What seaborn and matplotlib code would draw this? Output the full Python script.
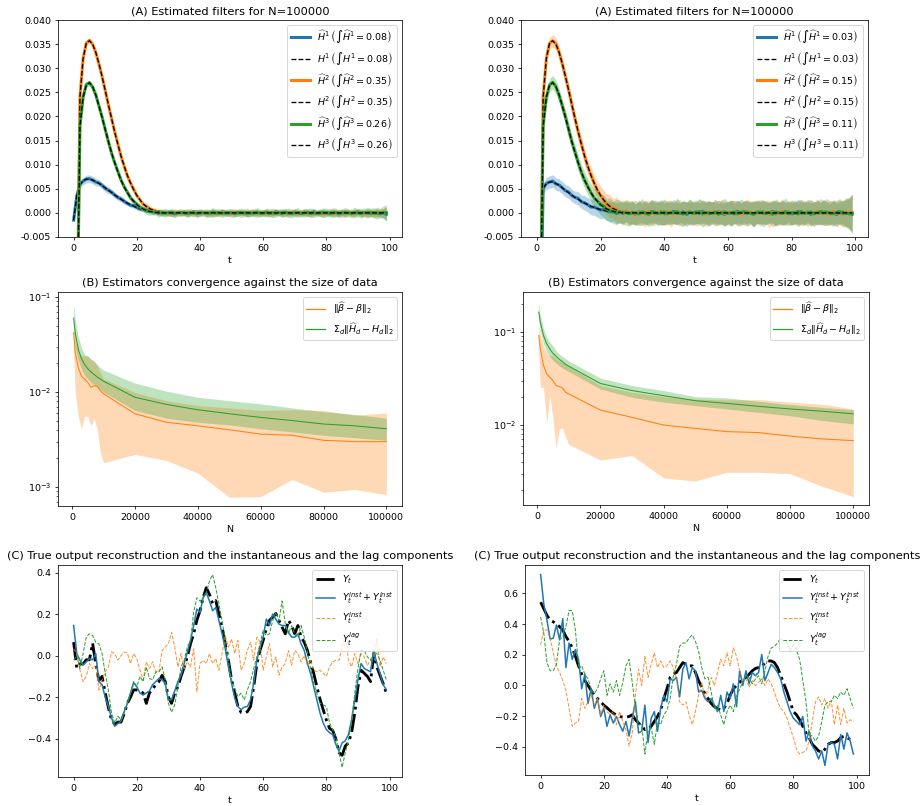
import numpy as np
import pandas as pd
import matplotlib
matplotlib.use("Agg")
import matplotlib.pyplot as plt
from matplotlib.lines import Line2D
import seaborn as sns

# ---------------- Panel A data (filters) ----------------
t = list(range(100))

H1_true_L = [-0.0015, 0.0035, 0.0058, 0.0067, 0.0070, 0.0070, 0.0068, 0.0065, 0.0061, 0.0057,
             0.0052, 0.0047, 0.0042, 0.0037, 0.0033, 0.0028, 0.0024, 0.0020, 0.0017, 0.0014,
             0.0011, 0.0009, 0.0007, 0.0005, 0.0004, 0.0003, 0.0002, 0.0001, 0.0001, 0.0] + [0.0] * 70
H1_true_R = [-0.050, -0.030, 0.0052, 0.0060, 0.0064, 0.0064, 0.0061, 0.0057, 0.0052, 0.0047,
             0.0042, 0.0037, 0.0032, 0.0028, 0.0024, 0.0020, 0.0017, 0.0014, 0.0011, 0.0009,
             0.0007, 0.0005, 0.0004, 0.0003, 0.0002, 0.0001, 0.0001, 0.0, 0.0, 0.0] + [0.0] * 70
H2_true = [-0.050, -0.030, 0.0240, 0.0320, 0.0352, 0.0357, 0.0350, 0.0333, 0.0310, 0.0283,
           0.0254, 0.0225, 0.0196, 0.0168, 0.0142, 0.0118, 0.0097, 0.0078, 0.0062, 0.0048,
           0.0036, 0.0027, 0.0019, 0.0013, 0.0009, 0.0006, 0.0003, 0.0002, 0.0001, 0.0] + [0.0] * 70
H3_true = [-0.050, -0.030, 0.0180, 0.0240, 0.0265, 0.0270, 0.0262, 0.0245, 0.0222, 0.0198,
           0.0173, 0.0148, 0.0125, 0.0104, 0.0085, 0.0068, 0.0054, 0.0042, 0.0032, 0.0024,
           0.0017, 0.0012, 0.0008, 0.0005, 0.0003, 0.0002, 0.0001, 0.0, 0.0, 0.0] + [0.0] * 70

# deviations of the estimates and band half-widths, in units of 1e-4
H1_dev_L = [0, 1, 1, -1, 0, 1, 0, -1, 1, 0, -1, 0, 1, 0, -1, 1, 0, 0, -1, 1,
            0, -1, 1, 1, 0, -1, 0, 1, -1, 0, 1, 0, -2, 1, 0, 1, -1, 0, 2, -1,
            0, 1, -1, 0, 1, 0, -1, 2, 0, -1, 1, -1, 0, 1, 0, -2, 1, 0, 1, -1,
            0, 1, -1, 0, 2, 0, -1, 1, -1, 0, 1, 0, -1, 1, 0, -1, 2, 0, -1, 1,
            0, -1, 1, 0, -2, 1, 0, 1, -1, 0, 2, -1, 0, 1, -1, 0, 1, -2, 0, -3]
H1_band_L = [6, 7, 7, 8, 8, 8, 8, 8, 7, 7, 7, 7, 6, 6, 6, 6, 6, 5, 5, 5,
             5, 5, 5, 6, 5, 6, 5, 6, 7, 6, 6, 7, 6, 5, 6, 7, 6, 5, 6, 7,
             6, 5, 7, 6, 8, 6, 5, 6, 7, 6, 5, 6, 7, 6, 5, 7, 6, 6, 7, 5,
             6, 7, 5, 6, 7, 6, 8, 6, 5, 6, 7, 6, 5, 7, 6, 6, 7, 5, 6, 7,
             6, 5, 7, 6, 8, 6, 7, 5, 6, 7, 6, 7, 6, 8, 7, 6, 8, 7, 9, 14]
H2_dev_L = [0, 0, 1, 0, 0, 1, 0, 0, -1, 0, 0, -1, 0, 0, 1, 0, 0, -1, 0, 1,
            0, 0, -1, 1, 0, 0, 1, -1, 0, 1, -1, 0, 1, 0, -1, 1, 0, 0, -1, 1,
            0, 1, -1, 0, 0, 1, -1, 1, 0, 0, -1, 1, 0, 0, 1, -1, 0, 1, 0, -1,
            1, 0, 0, -1, 1, 0, 1, -1, 0, 0, 1, -1, 0, 1, 0, 0, -1, 1, 0, -1,
            0, 1, 0, -1, 1, 0, 0, 1, -1, 0, 1, 0, -1, 0, 1, -1, 0, 1, 0, 1]
H2_band_L = [5, 6, 5, 5, 5, 5, 5, 5, 5, 5, 5, 5, 5, 5, 5, 5, 5, 5, 5, 5,
             5, 5, 5, 6, 6, 5, 6, 7, 6, 5, 6, 7, 6, 7, 5, 6, 8, 6, 7, 6,
             7, 6, 5, 7, 6, 8, 6, 7, 5, 6, 7, 8, 6, 5, 7, 6, 8, 7, 6, 7,
             6, 7, 8, 6, 7, 5, 6, 8, 7, 6, 8, 6, 7, 6, 8, 7, 6, 5, 7, 8,
             6, 7, 8, 6, 7, 6, 8, 7, 6, 7, 8, 7, 6, 8, 7, 9, 8, 7, 9, 12]
H3_dev_L = [0, 1, 0, 0, 1, 0, -1, 0, 0, 1, 0, 0, -1, 0, 1, 0, 0, 1, -1, 0,
            1, 0, 0, -1, 0, 1, 0, -1, 1, 0, 0, 1, -1, 0, 1, 0, -1, 1, 0, -1,
            1, 0, 0, -1, 1, 0, 1, -1, 0, 1, 0, -1, 1, 0, 0, 1, -1, 0, 1, 0,
            -1, 1, 0, 0, -1, 1, 0, 1, 0, -1, 0, 1, -1, 0, 1, 0, 0, -1, 1, 0,
            1, 0, 0, 1, -1, 0, 1, 0, -1, 1, 0, -1, 1, 0, 1, 0, -1, 0, 1, 0]
H3_band_L = [6, 7, 6, 6, 6, 6, 6, 6, 6, 6, 6, 6, 6, 6, 6, 6, 6, 6, 6, 6,
             6, 7, 6, 7, 8, 7, 6, 8, 7, 9, 7, 8, 9, 7, 8, 6, 9, 8, 7, 9,
             8, 7, 9, 8, 10, 7, 8, 9, 7, 8, 9, 8, 7, 10, 8, 9, 7, 8, 10, 8,
             7, 9, 8, 10, 8, 7, 9, 8, 10, 9, 8, 10, 7, 9, 8, 10, 9, 7, 8, 10,
             9, 8, 10, 9, 7, 9, 10, 8, 9, 11, 8, 10, 9, 11, 9, 10, 12, 10, 13, 17]

H1_dev_R = [0, 0, -2, 1, 0, 2, -1, 1, 0, -1, 1, -1, 0, 2, -1, 1, 0, -2, 1, 0,
            -1, 2, 0, -1, 1, -2, 0, 1, 2, -1, 0, -3, 2, 0, 1, -2, 3, 0, -1, 2,
            -2, 1, 0, 3, -1, 0, 2, -3, 1, 0, 2, -1, 3, 0, -2, 1, 0, 2, -1, -3,
            1, 0, -2, 3, 0, -1, 2, 0, -3, 1, 0, 2, -1, 0, 3, -2, 0, 1, -1, 2,
            -2, 0, 3, -1, 0, 2, -3, 0, 1, -1, 2, 0, -2, 1, -3, 0, 2, -1, 0, -3]
H1_band_R = [12, 12, 12, 12, 13, 13, 13, 13, 13, 13, 13, 13, 13, 14, 14, 15, 15, 16, 17, 18,
             18, 19, 20, 21, 20, 22, 21, 23, 20, 22, 24, 21, 23, 20, 25, 22, 24, 21, 23, 26,
             22, 24, 21, 25, 23, 20, 24, 26, 22, 23, 25, 21, 24, 22, 26, 23, 21, 25, 22, 24,
             23, 26, 21, 24, 22, 25, 23, 21, 26, 24, 22, 25, 23, 21, 24, 26, 22, 25, 23, 21,
             24, 22, 26, 23, 25, 21, 24, 22, 26, 23, 25, 23, 21, 26, 24, 22, 25, 27, 30, 40]
H2_dev_R = [0, 0, 1, 0, 0, 0, 1, 0, -1, 0, 1, 0, -1, 0, 1, 0, -1, 1, 0, -1,
            1, 0, -2, 1, 0, 2, -1, -2, 3, -1, 2, -3, 1, 0, -2, 3, -1, 0, 2, -2,
            0, 3, -1, -2, 2, 0, -3, 1, 2, -1, -2, 2, 0, -3, 1, 2, -1, 0, 3, -2,
            1, -1, 2, 0, -3, 1, 0, 2, -2, 3, -1, 0, 2, -3, 1, 0, -2, 3, -1, 1,
            0, 2, -3, 1, -1, 2, 0, -2, 3, -1, 2, -2, 0, 3, -1, 1, -3, 2, 0, 1]
H2_band_R = [12, 12, 12, 12, 12, 13, 13, 13, 13, 13, 13, 13, 13, 14, 14, 15, 15, 16, 17, 18,
             19, 20, 22, 24, 21, 25, 23, 26, 22, 27, 24, 21, 26, 23, 28, 22, 25, 27, 21, 24,
             26, 23, 28, 22, 25, 27, 24, 21, 26, 23, 25, 28, 22, 26, 24, 21, 27, 25, 23, 26,
             22, 27, 24, 26, 21, 25, 28, 23, 26, 24, 27, 22, 25, 28, 23, 26, 24, 27, 22, 25,
             24, 26, 22, 27, 25, 23, 28, 24, 26, 22, 27, 24, 26, 23, 28, 25, 27, 29, 32, 38]
H3_dev_R = [0, 0, 1, 0, 0, 1, 0, -1, 0, 1, 0, -1, 1, 0, -1, 0, 1, 0, -1, 1,
            0, 2, -1, 1, -2, 0, 2, -1, 1, -2, 1, 0, -2, 2, 0, -3, 1, 2, -1, 0,
            2, -2, 1, 0, 3, -1, -2, 0, 2, -1, 0, 3, -2, 1, 0, -1, 2, -3, 1, 2,
            -1, 0, 2, -2, 1, 3, -1, 0, -2, 1, 2, -1, 0, 1, -3, 2, 0, -1, 3, -2,
            1, 0, -2, 3, -1, 0, 2, -2, 0, 3, -1, 2, 0, -2, 1, 3, -1, 0, -2, -1]
H3_band_R = [14, 14, 14, 14, 14, 14, 14, 14, 14, 15, 15, 15, 15, 16, 16, 17, 17, 18, 19, 20,
             21, 23, 22, 25, 23, 26, 24, 22, 27, 25, 23, 26, 24, 28, 22, 25, 27, 23, 26, 24,
             27, 23, 25, 22, 28, 24, 26, 23, 27, 25, 22, 26, 28, 24, 25, 23, 27, 22, 26, 28,
             24, 27, 23, 25, 28, 22, 26, 24, 27, 23, 25, 28, 24, 22, 26, 27, 23, 25, 28, 24,
             26, 23, 27, 25, 22, 28, 24, 26, 23, 27, 25, 28, 24, 26, 23, 27, 25, 30, 33, 40]

integ_L = ["0.08", "0.35", "0.26"]
integ_R = ["0.03", "0.15", "0.11"]
A_yticks = [-0.005, 0.0, 0.005, 0.010, 0.015, 0.020, 0.025, 0.030, 0.035, 0.040]

# ---------------- Panel B data (convergence) ----------------
N_vals = [500, 1000, 2000, 3000, 4000, 5000, 6000, 7000, 8000, 9000, 10000,
          20000, 30000, 40000, 50000, 60000, 70000, 80000, 90000, 100000]

beta_mean_L = [0.042, 0.026, 0.018, 0.0146, 0.0137, 0.0126, 0.0112, 0.0116, 0.0115, 0.0103, 0.0096,
               0.0059, 0.0048, 0.0044, 0.0040, 0.0036, 0.0035, 0.0031, 0.0030, 0.0030]
beta_hi_L = [0.055, 0.035, 0.026, 0.024, 0.024, 0.024, 0.022, 0.021, 0.019, 0.016, 0.0137,
             0.0099, 0.0081, 0.0072, 0.0068, 0.0064, 0.0065, 0.0064, 0.0057, 0.0060]
beta_lo_L = [0.025, 0.010, 0.0055, 0.0041, 0.0055, 0.0056, 0.0044, 0.0052, 0.0041, 0.0023, 0.0018,
             0.0022, 0.0019, 0.0014, 0.00078, 0.00079, 0.0012, 0.00088, 0.00094, 0.00083]
Hd_mean_L = [0.060, 0.042, 0.028, 0.0224, 0.0195, 0.0176, 0.0163, 0.0153, 0.0144, 0.0137, 0.0130,
             0.0088, 0.0074, 0.0065, 0.0059, 0.0054, 0.0050, 0.0046, 0.0044, 0.0041]
Hd_hi_L = [0.084, 0.057, 0.038, 0.029, 0.0248, 0.024, 0.0224, 0.0212, 0.0195, 0.018, 0.017,
           0.0124, 0.0102, 0.0088, 0.0081, 0.0075, 0.0068, 0.0062, 0.0058, 0.0053]
Hd_lo_L = [0.045, 0.030, 0.0212, 0.0174, 0.015, 0.0137, 0.0126, 0.0118, 0.0112, 0.0106, 0.010,
           0.0064, 0.0053, 0.0048, 0.0045, 0.0041, 0.0038, 0.0035, 0.0033, 0.0031]

beta_mean_R = [0.092, 0.066, 0.044, 0.0355, 0.0327, 0.030, 0.0266, 0.026, 0.0251, 0.0225, 0.0216,
               0.0145, 0.0121, 0.010, 0.0092, 0.0085, 0.0083, 0.0076, 0.0071, 0.0068]
beta_hi_R = [0.123, 0.096, 0.072, 0.061, 0.056, 0.056, 0.052, 0.049, 0.047, 0.045, 0.043,
             0.0266, 0.0225, 0.0202, 0.019, 0.0186, 0.0188, 0.0176, 0.0168, 0.0149]
beta_lo_R = [0.063, 0.0255, 0.0255, 0.0107, 0.0207, 0.0116, 0.0057, 0.009, 0.0094, 0.0074, 0.0062,
             0.0042, 0.0047, 0.0027, 0.0025, 0.0031, 0.0031, 0.003, 0.0022, 0.0017]
Hd_mean_R = [0.164, 0.128, 0.092, 0.075, 0.066, 0.059, 0.055, 0.051, 0.048, 0.045, 0.043,
             0.028, 0.0235, 0.0207, 0.0183, 0.0171, 0.0159, 0.0149, 0.0141, 0.0132]
Hd_hi_R = [0.21, 0.15, 0.109, 0.088, 0.078, 0.071, 0.063, 0.058, 0.055, 0.052, 0.049,
           0.032, 0.0266, 0.0235, 0.0202, 0.0196, 0.018, 0.0166, 0.0155, 0.0146]
Hd_lo_R = [0.134, 0.104, 0.075, 0.0624, 0.0546, 0.0495, 0.0463, 0.0434, 0.0412, 0.0392, 0.0377,
           0.0244, 0.0199, 0.0176, 0.0162, 0.0149, 0.0137, 0.0126, 0.0112, 0.0103]

# ---------------- Panel C data (reconstruction) ----------------
Y_L = [0.065, -0.06, -0.04, -0.04, -0.02, -0.02, 0.06, -0.04, -0.12, -0.10,
       -0.18, -0.25, -0.31, -0.33, -0.32, -0.32, -0.28, -0.23, -0.20, -0.165,
       -0.165, -0.17, -0.18, -0.23, -0.18, -0.16, -0.14, -0.125, -0.095, -0.125,
       -0.20, -0.23, -0.18, -0.15, -0.10, -0.055, -0.005, 0.057, 0.105, 0.17,
       0.215, 0.28, 0.327, 0.295, 0.25, 0.265, 0.20, 0.137, 0.057, -0.022,
       -0.117, -0.18, -0.245, -0.273, -0.276, -0.27, -0.245, -0.15, -0.04, 0.025,
       0.073, 0.13, 0.17, 0.185, 0.203, 0.17, 0.137, 0.105, 0.17, 0.145,
       0.105, 0.145, 0.09, 0.065, 0.025, -0.03, -0.085, -0.15, -0.21, -0.26,
       -0.31, -0.35, -0.36, -0.40, -0.467, -0.48, -0.435, -0.42, -0.37, -0.276,
       -0.15, -0.07, -0.085, -0.10, -0.125, 0.01, -0.055, -0.095, -0.135, -0.18]
Ysum_L = [0.145, 0.01, -0.022, -0.045, -0.03, -0.015, -0.02, 0.01, -0.125, -0.14,
          -0.20, -0.245, -0.30, -0.34, -0.327, -0.316, -0.27, -0.23, -0.18, -0.13,
          -0.15, -0.18, -0.19, -0.18, -0.17, -0.14, -0.125, -0.11, -0.117, -0.133,
          -0.213, -0.213, -0.17, -0.125, -0.094, -0.038, 0.017, 0.073, 0.145, 0.224,
          0.208, 0.28, 0.303, 0.263, 0.216, 0.232, 0.168, 0.105, 0.033, -0.054,
          -0.133, -0.205, -0.245, -0.26, -0.248, -0.245, -0.213, -0.133, -0.022, 0.041,
          0.089, 0.176, 0.145, 0.20, 0.176, 0.152, 0.145, 0.145, 0.113, 0.089,
          0.089, 0.105, 0.057, 0.025, -0.038, -0.086, -0.15, -0.213, -0.276, -0.324,
          -0.356, -0.371, -0.38, -0.427, -0.46, -0.42, -0.41, -0.38, -0.308, -0.213,
          -0.117, -0.038, -0.062, -0.07, -0.078, 0.025, -0.038, -0.086, -0.14, -0.165]
Yinst_L = [0.033, 0.01, -0.07, -0.125, -0.10, -0.038, -0.062, -0.054, -0.165, -0.117,
           -0.078, -0.054, 0.017, 0.01, -0.022, 0.0, 0.017, 0.014, -0.038, 0.01,
           -0.014, -0.07, -0.117, -0.03, -0.062, -0.03, -0.078, -0.078, 0.025, 0.041,
           0.057, 0.113, 0.041, -0.054, 0.01, -0.062, -0.03, -0.054, 0.033, -0.173,
           -0.038, -0.022, -0.038, 0.01, -0.038, -0.014, -0.07, 0.01, 0.097, 0.041,
           0.081, 0.01, 0.073, -0.07, -0.038, 0.025, 0.065, -0.022, 0.089, 0.065,
           -0.07, -0.006, 0.057, -0.054, -0.006, -0.094, -0.054, -0.038, 0.025, -0.046,
           0.025, 0.01, -0.03, 0.0, -0.046, -0.022, -0.07, -0.078, -0.07, -0.086,
           -0.10, -0.054, -0.03, -0.022, -0.022, 0.041, 0.105, -0.022, -0.054, 0.01,
           -0.038, 0.01, -0.006, -0.046, -0.022, -0.006, 0.081, -0.054, -0.006, -0.038]
Ylag_L = [-0.022, 0.0, -0.062, 0.01, 0.089, 0.105, 0.097, 0.065, 0.057, 0.01,
          -0.086, -0.165, -0.276, -0.324, -0.292, -0.308, -0.276, -0.229, -0.181, -0.125,
          -0.149, -0.10, -0.125, -0.054, -0.11, -0.117, -0.078, -0.078, -0.054, -0.117,
          -0.229, -0.273, -0.237, -0.149, -0.054, -0.022, 0.041, 0.073, 0.208, 0.279,
          0.263, 0.279, 0.303, 0.359, 0.39, 0.327, 0.248, 0.168, 0.073, -0.022,
          -0.117, -0.157, -0.197, -0.181, -0.213, -0.165, -0.125, -0.062, -0.006, 0.057,
          0.121, 0.097, 0.105, 0.168, 0.208, 0.168, 0.263, 0.152, 0.105, 0.145,
          0.105, 0.089, 0.145, 0.089, 0.017, -0.062, -0.133, -0.181, -0.229, -0.237,
          -0.245, -0.324, -0.356, -0.395, -0.467, -0.538, -0.467, -0.405, -0.308, -0.181,
          -0.062, 0.025, 0.025, -0.006, -0.022, 0.017, 0.01, -0.022, -0.07, -0.117]

Y_R = [0.543, 0.50, 0.457, 0.426, 0.415, 0.40, 0.383, 0.362, 0.319, 0.287,
       0.245, 0.191, 0.128, 0.074, 0.032, 0.0, -0.032, -0.064, -0.085, -0.106,
       -0.128, -0.145, -0.164, -0.181, -0.191, -0.202, -0.206, -0.206, -0.202, -0.191,
       -0.223, -0.245, -0.266, -0.287, -0.277, -0.266, -0.234, -0.202, -0.16, -0.085,
       -0.021, 0.053, 0.074, 0.085, 0.117, 0.149, 0.138, 0.128, 0.128, 0.085,
       0.032, -0.011, -0.053, -0.085, -0.117, -0.138, -0.149, -0.16, -0.149, -0.117,
       -0.064, -0.021, 0.0, 0.021, 0.043, 0.053, 0.074, 0.096, 0.111, 0.117,
       0.121, 0.149, 0.16, 0.16, 0.149, 0.117, 0.064, 0.011, -0.043, -0.106,
       -0.17, -0.191, -0.223, -0.266, -0.309, -0.34, -0.383, -0.404, -0.426, -0.436,
       -0.415, -0.383, -0.372, -0.372, -0.362, -0.34, -0.33, -0.34, -0.351, -0.357]
Ysum_R = [0.723, 0.532, 0.426, 0.302, 0.309, 0.394, 0.298, 0.436, 0.117, 0.277,
          0.17, 0.234, 0.17, -0.021, 0.074, -0.117, -0.021, -0.149, -0.085, -0.202,
          -0.149, -0.266, -0.191, -0.245, -0.202, -0.255, -0.298, -0.234, -0.33, -0.213,
          -0.106, -0.309, -0.298, -0.128, -0.372, -0.213, -0.17, -0.298, -0.149, -0.064,
          -0.106, 0.043, 0.032, 0.053, -0.074, 0.106, 0.149, 0.043, 0.117, 0.096,
          -0.043, -0.032, -0.085, -0.106, -0.085, -0.128, -0.17, -0.064, -0.17, -0.043,
          -0.085, 0.011, -0.138, 0.096, 0.0, 0.096, 0.011, 0.085, 0.064, 0.085,
          0.202, 0.032, 0.085, 0.138, 0.117, 0.085, 0.043, -0.043, -0.106, -0.17,
          -0.213, -0.234, -0.255, -0.202, -0.362, -0.298, -0.394, -0.426, -0.479, -0.426,
          -0.521, -0.383, -0.372, -0.383, -0.479, -0.319, -0.415, -0.309, -0.362, -0.447]
Yinst_R = [0.266, 0.362, 0.362, 0.309, 0.213, 0.128, 0.085, 0.032, -0.032, -0.149,
           -0.266, -0.245, -0.234, -0.085, -0.149, -0.106, -0.064, -0.128, -0.085, -0.191,
           -0.128, -0.17, -0.191, -0.17, -0.255, -0.17, -0.234, -0.287, -0.394, -0.309,
           -0.064, 0.106, 0.0, 0.191, 0.053, 0.138, 0.213, 0.117, 0.16, 0.117,
           0.128, 0.16, 0.117, 0.043, -0.106, -0.128, -0.106, -0.191, -0.255, -0.17,
           -0.064, 0.021, -0.085, -0.021, 0.053, 0.0, 0.085, 0.17, 0.128, 0.213,
           0.128, 0.245, 0.191, 0.096, 0.032, 0.043, -0.011, 0.032, 0.0, 0.021,
           0.043, 0.0, 0.043, 0.011, -0.043, -0.106, -0.149, -0.17, -0.213, -0.277,
           -0.34, -0.415, -0.447, -0.436, -0.426, -0.362, -0.234, -0.106, -0.074, -0.128,
           -0.085, -0.149, -0.096, -0.255, -0.128, -0.255, -0.149, -0.245, -0.223, -0.234]
Ylag_R = [0.447, 0.34, 0.149, 0.096, 0.096, 0.138, 0.298, 0.319, 0.383, 0.489,
          0.489, 0.362, 0.128, 0.128, 0.074, 0.043, -0.021, -0.053, -0.021, 0.043,
          0.096, -0.064, 0.011, -0.043, 0.032, -0.064, 0.021, 0.128, 0.17, 0.021,
          -0.149, -0.255, -0.255, -0.447, -0.298, -0.277, -0.383, -0.234, -0.255, -0.191,
          -0.16, -0.085, 0.064, 0.138, 0.255, 0.277, 0.277, 0.309, 0.33, 0.287,
          0.223, 0.117, 0.043, 0.053, -0.043, -0.149, -0.128, -0.191, -0.255, -0.17,
          -0.128, -0.17, -0.074, -0.021, 0.021, 0.064, 0.053, 0.011, 0.043, 0.064,
          0.011, 0.096, 0.191, 0.245, 0.255, 0.277, 0.309, 0.287, 0.277, 0.223,
          0.266, 0.234, 0.17, 0.032, -0.106, -0.319, -0.33, -0.362, -0.33, -0.234,
          -0.128, -0.106, -0.106, -0.064, -0.085, -0.043, -0.064, -0.021, -0.085, -0.149]

# ---------------- figure ----------------
W, H = 920, 806
DPI = 68
fig = plt.figure(figsize=(W / DPI, H / DPI), dpi=DPI)


def box(x0, y0, x1, y1):
    return [x0 / W, 1 - y1 / H, (x1 - x0) / W, (y1 - y0) / H]


axA_L = fig.add_axes(box(58, 20, 402, 237))
axA_R = fig.add_axes(box(521, 20, 868, 237))
axB_L = fig.add_axes(box(58, 292, 402, 506))
axB_R = fig.add_axes(box(523, 292, 869, 505))
axC_L = fig.add_axes(box(58, 565, 402, 777))
axC_R = fig.add_axes(box(525, 565, 869, 775))

C0, C1, C2 = sns.color_palette("tab10")[:3]


def panel_A(ax, trues, devs, bands, integ):
    cols = [C0, C1, C2]
    for k in range(3):
        tr = np.array(trues[k])
        est = tr + np.array(devs[k]) * 1e-4
        bw = np.array(bands[k]) * 1e-4
        ax.fill_between(t, est - bw, est + bw, color=cols[k], alpha=0.3, lw=0)
        sns.lineplot(x=t, y=est, color=cols[k], lw=3.2, ax=ax,
                     label=r"$\widehat{H}^%d\,\left(\int\widehat{H}^%d=%s\right)$" % (k + 1, k + 1, integ[k]))
        sns.lineplot(x=t, y=tr, color="k", lw=1.4, ls="--", ax=ax,
                     label=r"$H^%d\,\left(\int H^%d=%s\right)$" % (k + 1, k + 1, integ[k]))
    ax.set_ylim(-0.005, 0.040)
    ax.set_yticks(A_yticks)
    ax.set_yticklabels(["%.3f" % v for v in A_yticks])
    ax.set_xlim(-4.95, 103.95)
    ax.set_xticks([0, 20, 40, 60, 80, 100])
    ax.set_xlabel("t")
    ax.set_ylabel("")
    ax.set_title("(A) Estimated filters for N=100000")
    ax.legend(loc="upper right")


panel_A(axA_L, [H1_true_L, H2_true, H3_true], [H1_dev_L, H2_dev_L, H3_dev_L],
        [H1_band_L, H2_band_L, H3_band_L], integ_L)
panel_A(axA_R, [H1_true_R, H2_true, H3_true], [H1_dev_R, H2_dev_R, H3_dev_R],
        [H1_band_R, H2_band_R, H3_band_R], integ_R)


def panel_B(ax, bm, bh, bl, hm, hh, hl, ylim):
    ax.fill_between(N_vals, bl, bh, color=C1, alpha=0.3, lw=0)
    ax.fill_between(N_vals, hl, hh, color=C2, alpha=0.3, lw=0)
    sns.lineplot(x=N_vals, y=bm, color=C1, lw=1.1, ax=ax)
    sns.lineplot(x=N_vals, y=hm, color=C2, lw=1.1, ax=ax)
    ax.set_yscale("log")
    ax.set_ylim(*ylim)
    ax.set_xticks([0, 20000, 40000, 60000, 80000, 100000])
    ax.set_xlim(-4475, 104975)
    ax.set_xlabel("N")
    ax.set_ylabel("")
    ax.set_title("(B) Estimators convergence against the size of data")
    handles = [Line2D([], [], color=C1, lw=1.3), Line2D([], [], color=C2, lw=1.3)]
    ax.legend(handles=handles,
              labels=[r"$\|\widehat{\beta}-\beta\|_2$", r"$\Sigma_d\|\widehat{H}_d-H_d\|_2$"],
              loc="upper right")


panel_B(axB_L, beta_mean_L, beta_hi_L, beta_lo_L, Hd_mean_L, Hd_hi_L, Hd_lo_L, (6.3e-4, 0.113))
panel_B(axB_R, beta_mean_R, beta_hi_R, beta_lo_R, Hd_mean_R, Hd_hi_R, Hd_lo_R, (1.38e-3, 0.27))


def panel_C(ax, y, ysum, yinst, ylag):
    sns.lineplot(x=t, y=y, color="k", lw=3, ls="-.", ax=ax, label=r"$Y_t$")
    sns.lineplot(x=t, y=ysum, color=C0, lw=1.6, ax=ax, label=r"$Y_t^{inst}+Y_t^{inst}$")
    sns.lineplot(x=t, y=yinst, color=C1, lw=1.05, ls="--", alpha=0.85, ax=ax, label=r"$Y_t^{inst}$")
    sns.lineplot(x=t, y=ylag, color=C2, lw=1.05, ls="--", ax=ax, label=r"$Y_t^{lag}$")
    ax.set_xticks([0, 20, 40, 60, 80, 100])
    ax.set_xlabel("t")
    ax.set_ylabel("")
    ax.set_title("(C) True output reconstruction and the instantaneous and the lag components")
    ax.legend(loc="upper right")


panel_C(axC_L, Y_L, Ysum_L, Yinst_L, Ylag_L)
panel_C(axC_R, Y_R, Ysum_R, Yinst_R, Ylag_R)

fig.savefig("out.png", dpi=DPI)
